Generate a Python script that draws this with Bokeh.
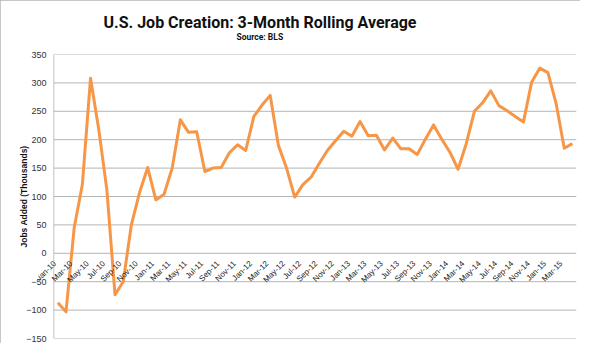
import math
from bokeh.plotting import figure
from bokeh.models import FixedTicker, ColumnDataSource, Range1d, Title
from bokeh.core.properties import value
from bokeh.embed import file_html
from bokeh.resources import INLINE

months = [
    "Jan-10", "Feb-10", "Mar-10", "Apr-10", "May-10", "Jun-10", "Jul-10", "Aug-10", "Sep-10", "Oct-10", "Nov-10", "Dec-10",
    "Jan-11", "Feb-11", "Mar-11", "Apr-11", "May-11", "Jun-11", "Jul-11", "Aug-11", "Sep-11", "Oct-11", "Nov-11", "Dec-11",
    "Jan-12", "Feb-12", "Mar-12", "Apr-12", "May-12", "Jun-12", "Jul-12", "Aug-12", "Sep-12", "Oct-12", "Nov-12", "Dec-12",
    "Jan-13", "Feb-13", "Mar-13", "Apr-13", "May-13", "Jun-13", "Jul-13", "Aug-13", "Sep-13", "Oct-13", "Nov-13", "Dec-13",
    "Jan-14", "Feb-14", "Mar-14", "Apr-14", "May-14", "Jun-14", "Jul-14", "Aug-14", "Sep-14", "Oct-14", "Nov-14", "Dec-14",
    "Jan-15", "Feb-15", "Mar-15", "Apr-15",
]
jobs_added = [
    -87, -103, 45, 121, 308, 219, 112, -73, -50, 50, 107, 151,
    94, 104, 150, 235, 213, 214, 144, 150, 151, 177, 191, 181,
    241, 261, 278, 190, 150, 99, 121, 134, 158, 181, 198, 215,
    206, 232, 207, 208, 182, 203, 184, 184, 174, 201, 226, 201,
    178, 148, 193, 250, 265, 286, 260, 251, 241, 231, 301, 326,
    318, 264, 185, 193,
]
y_ticks = [-150, -100, -50, 0, 50, 100, 150, 200, 250, 300, 350]
x_tick_labels = months[0::2]

title_text = "U.S. Job Creation: 3-Month Rolling Average"
subtitle_text = "Source: BLS"
y_title = "Jobs Added (Thousands)"

n = len(months)
xs = list(range(n))
src = ColumnDataSource(dict(x=xs, y=jobs_added, month=months))
tick_src = ColumnDataSource(dict(x=xs[0::2], y=[0] * len(x_tick_labels), label=x_tick_labels))
grid_src = ColumnDataSource(dict(x0=[-0.5] * len(y_ticks), x1=[n - 0.5] * len(y_ticks), y=y_ticks))

# the frame reaches a little left of the first category so that the
# slanted first label is not clipped; the value axis line sits at x=-0.5
pad = 1.87
p = figure(width=580, height=343, output_backend="svg", toolbar_location=None,
           x_range=Range1d(-0.5 - pad, n - 0.5), y_range=Range1d(y_ticks[0], y_ticks[-1]),
           min_border_left=38, min_border_right=4, min_border_top=54, min_border_bottom=5)
p.outline_line_color = None
p.background_fill_color = "white"
p.border_fill_color = "white"
p.styles = {"outline": "1px solid #b4b4b4", "outline-offset": "-1px"}
p.xaxis.visible = False
p.xgrid.visible = False
p.ygrid.visible = False

ax = p.yaxis[0]
ax.ticker = FixedTicker(ticks=y_ticks)
ax.axis_line_color = None
ax.major_tick_line_color = None
ax.minor_tick_line_color = None
ax.major_tick_out = 0
ax.major_tick_in = 0
ax.major_label_standoff = -8
ax.major_label_text_font = "Liberation Sans"
ax.major_label_text_font_size = "9px"
ax.major_label_text_color = "#333333"
ax.axis_label = y_title
ax.axis_label_text_font = "Liberation Sans"
ax.axis_label_text_font_style = "bold"
ax.axis_label_text_font_size = "8.5px"
ax.axis_label_text_color = "#111111"
ax.axis_label_standoff = -6

# horizontal gridlines and the value-axis line
p.segment("x0", "y", "x1", "y", source=grid_src, line_color="#b4b4b4", line_width=1)
p.segment(x0=-0.5, y0=y_ticks[0], x1=-0.5, y1=y_ticks[-1], line_color="#c4c4c4", line_width=1)

p.line("x", "y", source=src, line_color="#F79646", line_width=3, line_join="round")

# category labels hanging from the zero line
p.text("x", "y", text="label", source=tick_src, angle=math.pi / 4,
       text_align="right", text_baseline="middle", x_offset=-3, y_offset=9,
       text_font=value("Liberation Sans"), text_font_size="8px", text_color="#222222")

p.add_layout(Title(text=subtitle_text, align="left", offset=198, standoff=26,
                   text_font="Roboto", text_font_style="bold",
                   text_font_size="8.5px", text_color="#111111"), "above")
p.add_layout(Title(text=title_text, align="left", offset=65, standoff=-30,
                   text_font="Roboto", text_font_style="bold",
                   text_font_size="16px", text_color="#111111"), "above")

open("out.html", "w").write(file_html(p, INLINE))
